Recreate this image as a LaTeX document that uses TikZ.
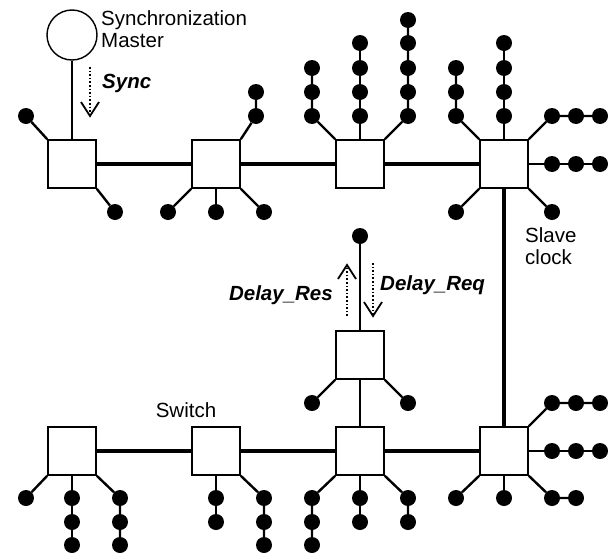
\documentclass[tikz,border=0pt]{standalone}
\usepackage{fontspec}
\setmainfont{Liberation Sans}
\usetikzlibrary{arrows.meta,positioning}

\begin{document}
\begin{tikzpicture}[x=1pt, y=-1pt,
    sw/.style={rectangle, draw=black, line width=1.6pt, minimum size=48pt, inner sep=0pt, fill=white},
    dot/.style={circle, fill=black, inner sep=0pt, minimum size=16pt},
    link/.style={line width=2.4pt},
    trunk/.style={line width=4pt},
    msg/.style={dotted, line width=1.6pt},
    vhead/.style={line width=1.8pt, line join=miter},
    lbl/.style={inner sep=0pt, font=\fontsize{20.5}{22}\selectfont, align=left},
    tag/.style={inner sep=0pt, font=\fontsize{20.5}{22}\selectfont\bfseries\itshape}]

\useasboundingbox (0,0) rectangle (613,557);

% Master and upper switches
\node[circle, draw=black, line width=1.4pt, minimum size=50pt, inner sep=0pt] (master) at (72,35) {};
\node[lbl, anchor=north west] (master_lbl) at (101,10) {Synchronization\\Master};
\node[sw] (s1) at (72,164) {};
\node[sw] (s2) at (216,164) {};
\node[sw] (s3) at (360,164) {};
\node[sw] (s4) at (504,164) {};

% Lower switches
\node[sw] (b1) at (72,451) {};
\node[sw] (b2) at (216,451) {};
\node[sw] (b3) at (360,451) {};
\node[sw] (b4) at (504,451) {};
\node[sw] (mid) at (360,355) {};
\node[lbl, anchor=base] (sw_lbl) at (186,417) {Switch};
\node[lbl, anchor=north west] (slave_lbl) at (525,227) {Slave\\clock};

% Trunk lines
\draw[line width=1.4pt] (master) -- (s1);
\draw[trunk] (s1) -- (s2);
\draw[trunk] (s2) -- (s3);
\draw[trunk] (s3) -- (s4);
\draw[trunk] (s4) -- (b4);
\draw[trunk] (b1) -- (b2);
\draw[trunk] (b2) -- (b3);
\draw[trunk] (b3) -- (b4);
\draw[link] (mid) -- (b3);

% Clocks on s1 and s2
\node[dot] (s1a) at (26,116) {};
\node[dot] (s1b) at (115,212) {};
\draw[link] (s1.north west) -- (s1a);
\draw[link] (s1.south east) -- (s1b);
\foreach \y [count=\i] in {116,92} \node[dot] (s2a\i) at (256,\y) {};
\node[dot] (s2b) at (168,212) {};
\node[dot] (s2c) at (216,212) {};
\node[dot] (s2d) at (264,212) {};
\draw[link] (s2.north east) -- (s2a1) -- (s2a2);
\draw[link] (s2.south west) -- (s2b);
\draw[link] (s2.south) -- (s2c);
\draw[link] (s2.south east) -- (s2d);

% Clocks on s3
\foreach \y [count=\i] in {116,92,68} \node[dot] (s3a\i) at (312,\y) {};
\foreach \y [count=\i] in {116,92,68,43} \node[dot] (s3b\i) at (360,\y) {};
\foreach \y [count=\i] in {116,92,68,43,20} \node[dot] (s3c\i) at (408,\y) {};
\draw[link] (s3.north west) -- (s3a1) -- (s3a3);
\draw[link] (s3.north) -- (s3b1) -- (s3b4);
\draw[link] (s3.north east) -- (s3c1) -- (s3c5);

% Clocks on s4
\foreach \y [count=\i] in {116,92,68} \node[dot] (s4a\i) at (456,\y) {};
\foreach \y [count=\i] in {116,92,68,43} \node[dot] (s4b\i) at (504,\y) {};
\foreach \x [count=\i] in {552,576,600} \node[dot] (s4c\i) at (\x,116) {};
\foreach \x [count=\i] in {552,576,600} \node[dot] (s4d\i) at (\x,164) {};
\node[dot] (s4e) at (456,212) {};
\node[dot] (s4f) at (552,212) {};
\draw[link] (s4.north west) -- (s4a1) -- (s4a3);
\draw[link] (s4.north) -- (s4b1) -- (s4b4);
\draw[link] (s4.north east) -- (s4c1) -- (s4c3);
\draw[link] (s4.east) -- (s4d1) -- (s4d3);
\draw[link] (s4.south west) -- (s4e);
\draw[link] (s4.south east) -- (s4f);

% Middle switch
\node[dot] (mida) at (360,236) {};
\node[dot] (midb) at (312,403) {};
\node[dot] (midc) at (408,403) {};
\draw[link] (mid.north) -- (mida);
\draw[link] (mid.south west) -- (midb);
\draw[link] (mid.south east) -- (midc);

% Clocks on b1 and b2
\node[dot] (b1a) at (26,498) {};
\foreach \y [count=\i] in {498,522,545} \node[dot] (b1b\i) at (72,\y) {};
\foreach \y [count=\i] in {498,522,545} \node[dot] (b1c\i) at (120,\y) {};
\draw[link] (b1.south west) -- (b1a);
\draw[link] (b1.south) -- (b1b1) -- (b1b3);
\draw[link] (b1.south east) -- (b1c1) -- (b1c3);
\foreach \y [count=\i] in {498,522} \node[dot] (b2a\i) at (216,\y) {};
\foreach \y [count=\i] in {498,522,545} \node[dot] (b2b\i) at (264,\y) {};
\draw[link] (b2.south) -- (b2a1) -- (b2a2);
\draw[link] (b2.south east) -- (b2b1) -- (b2b3);

% Clocks on b3 and b4
\foreach \y [count=\i] in {498,522,545} \node[dot] (b3a\i) at (312,\y) {};
\foreach \y [count=\i] in {498,522} \node[dot] (b3b\i) at (360,\y) {};
\foreach \y [count=\i] in {498,522} \node[dot] (b3c\i) at (408,\y) {};
\draw[link] (b3.south west) -- (b3a1) -- (b3a3);
\draw[link] (b3.south) -- (b3b1) -- (b3b2);
\draw[link] (b3.south east) -- (b3c1) -- (b3c2);
\foreach \x [count=\i] in {552,576,600} \node[dot] (b4a\i) at (\x,403) {};
\foreach \x [count=\i] in {552,576,600} \node[dot] (b4b\i) at (\x,451) {};
\foreach \x [count=\i] in {552,576} \node[dot] (b4c\i) at (\x,498) {};
\node[dot] (b4d) at (456,498) {};
\node[dot] (b4e) at (504,498) {};
\draw[link] (b4.north east) -- (b4a1) -- (b4a3);
\draw[link] (b4.east) -- (b4b1) -- (b4b3);
\draw[link] (b4.south east) -- (b4c1) -- (b4c2);
\draw[link] (b4.south west) -- (b4d);
\draw[link] (b4.south) -- (b4e);

% PTP messages (dotted lines, open V heads)
\coordinate (sync_from) at (90,67);
\coordinate (sync_to) at (90,116);
\draw[msg] (sync_from) -- (sync_to);
\draw[vhead] (sync_to) +(-9,-14) -- (sync_to) -- +(9,-14);
\node[tag, anchor=base west] (sync_lbl) at (102,88) {Sync};
\coordinate (res_from) at (347,316);
\coordinate (res_to) at (347,265);
\draw[msg] (res_from) -- (res_to);
\draw[vhead] (res_to) +(-9,14) -- (res_to) -- +(9,14);
\node[tag, anchor=base east] (res_lbl) at (333,300) {Delay\_Res};
\coordinate (req_from) at (373,263);
\coordinate (req_to) at (373,316);
\draw[msg] (req_from) -- (req_to);
\draw[vhead] (req_to) +(-9,-14) -- (req_to) -- +(9,-14);
\node[tag, anchor=base west] (req_lbl) at (380,290) {Delay\_Req};

\end{tikzpicture}
\end{document}
